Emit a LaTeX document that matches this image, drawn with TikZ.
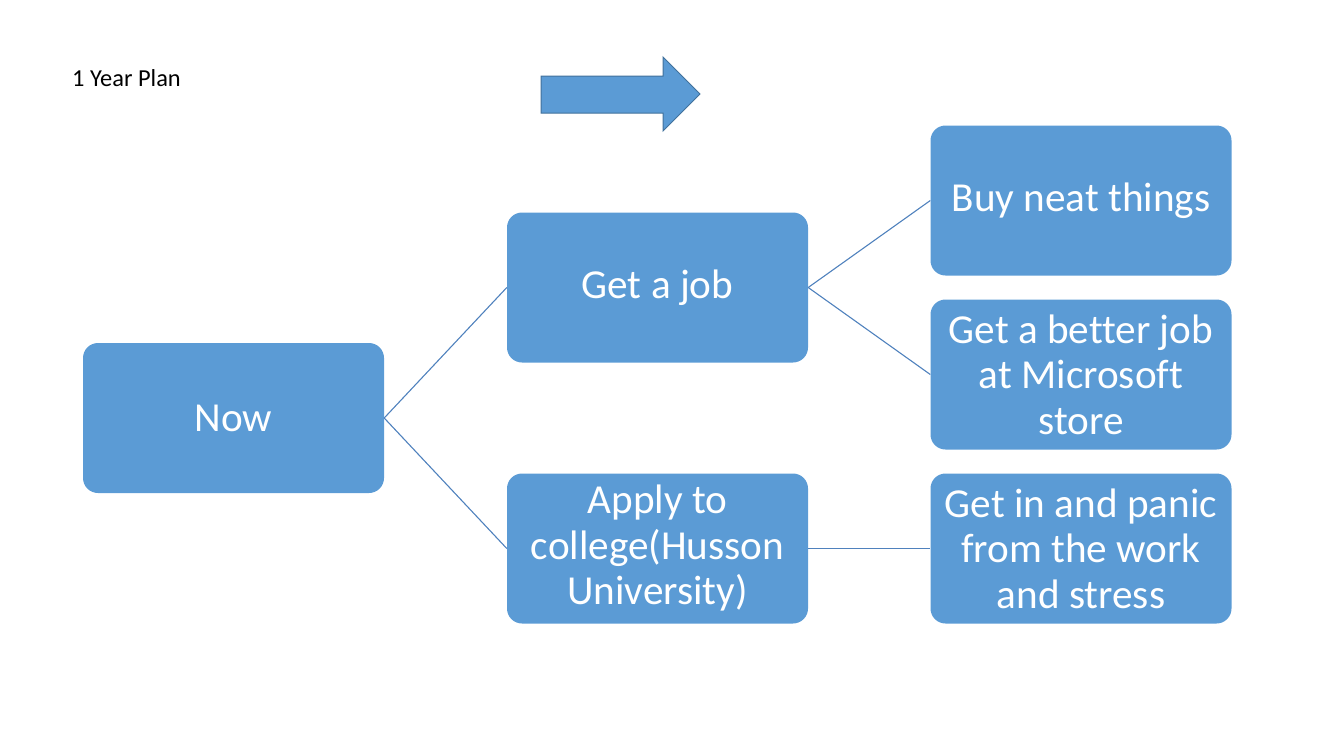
\documentclass[tikz,border=0pt]{standalone}
\usepackage{fontspec}
\setmainfont[Ligatures={NoCommon}]{Carlito}
\definecolor{boxfill}{HTML}{5B9BD5}
\definecolor{boxline}{HTML}{41719C}
\definecolor{conn}{HTML}{4F81BD}
\begin{document}
\begin{tikzpicture}[x=1pt,y=-1pt,
  box/.style={fill=boxfill,draw=none,rounded corners=15pt,minimum width=301pt,minimum height=150pt,inner sep=0pt,
    text=white,align=center,font=\fontsize{41.2}{45.5}\selectfont},
  link/.style={draw=conn,line width=1.1pt}]
\useasboundingbox (0,0) rectangle (1333,750);
\node[anchor=base west,font=\fontsize{24.4}{28}\selectfont,inner sep=0pt] (title) at (72,86) {1 Year Plan};
\node[box] (now) at (233.5,418) {Now};
\node[box] (job) at (657.5,287.5) {Get a job};
\node[box] (apply) at (657.5,548.5) {Apply to\\college(Husson\\University)};
\node[box] (buy) at (1081,200.5) {Buy neat things};
\node[box] (better) at (1081,374.5) {Get a better job\\at Microsoft\\store};
\node[box] (getin) at (1081,548.5) {Get in and panic\\from the work\\and stress};
\draw[link] (now.east) -- (job.west);
\draw[link] (now.east) -- (apply.west);
\draw[link] (job.east) -- (buy.west);
\draw[link] (job.east) -- (better.west);
\draw[link] (apply.east) -- (getin.west);
\draw[fill=boxfill,draw=boxline,line width=1pt] (541,76) -- (663,76) -- (663,57) -- (700,94) -- (663,131) -- (663,113) -- (541,113) -- cycle;
\end{tikzpicture}
\end{document}
